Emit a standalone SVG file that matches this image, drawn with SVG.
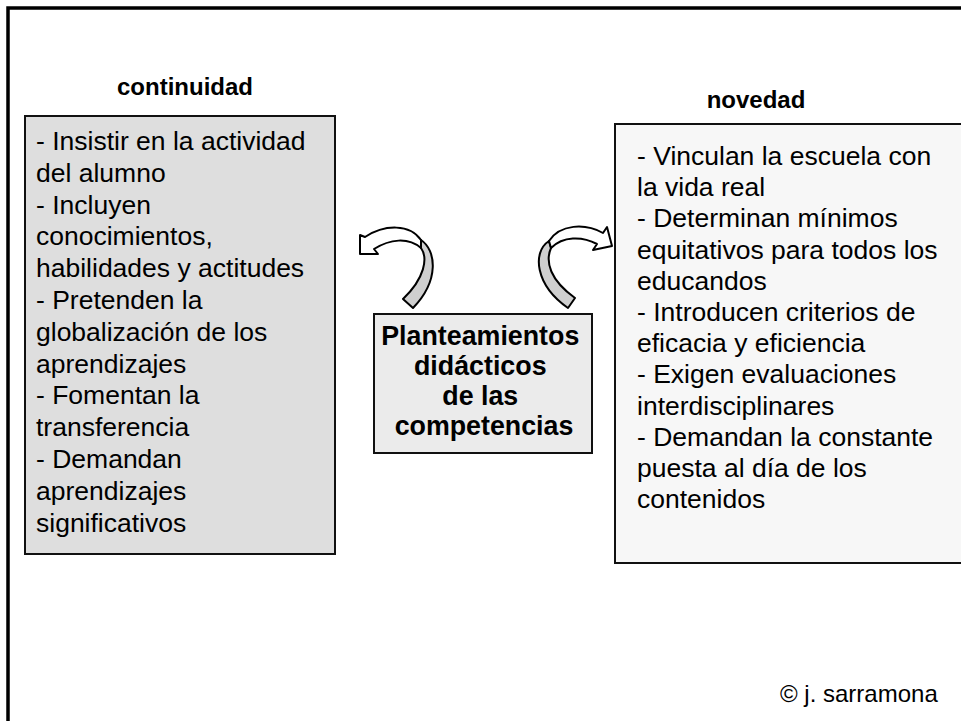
<svg xmlns="http://www.w3.org/2000/svg" width="961" height="721" viewBox="0 0 961 721">
<style>
  text { font-family: "Liberation Sans", Arial, sans-serif; fill: #000; }
  .item { font-size: 26.5px; }
  .head { font-size: 24px; font-weight: bold; text-anchor: middle; }
  .center { font-size: 26.8px; font-weight: bold; text-anchor: middle; }
  .box { stroke: #111; stroke-width: 2; }
  .arr { stroke: #000; stroke-width: 2; stroke-linejoin: round; }
</style>
<rect x="0" y="0" width="961" height="721" fill="#fff"/>
<rect x="8" y="8" width="1000" height="800" fill="none" stroke="#000" stroke-width="3.5"/>

<g id="label-continuidad"><text class="head" x="185" y="95">continuidad</text></g>
<g id="label-novedad"><text class="head" x="756" y="108">novedad</text></g>

<g id="continuidad">
  <rect class="box" x="25" y="116" width="310" height="438" fill="#dedede"/>
  <text class="item" x="36">
    <tspan x="36" y="150">- Insistir en la actividad</tspan>
    <tspan x="36" y="181.8">del alumno</tspan>
    <tspan x="36" y="213.6">- Incluyen</tspan>
    <tspan x="36" y="245.4">conocimientos,</tspan>
    <tspan x="36" y="277.2">habilidades y actitudes</tspan>
    <tspan x="36" y="309">- Pretenden la</tspan>
    <tspan x="36" y="340.8">globalización de los</tspan>
    <tspan x="36" y="372.6">aprendizajes</tspan>
    <tspan x="36" y="404.4">- Fomentan la</tspan>
    <tspan x="36" y="436.2">transferencia</tspan>
    <tspan x="36" y="468">- Demandan</tspan>
    <tspan x="36" y="499.8">aprendizajes</tspan>
    <tspan x="36" y="531.6">significativos</tspan>
  </text>
</g>

<g id="novedad">
  <rect class="box" x="615" y="124" width="400" height="439" fill="#f7f7f7"/>
  <text class="item">
    <tspan x="637" y="165">- Vinculan la escuela con</tspan>
    <tspan x="637" y="196.2">la vida real</tspan>
    <tspan x="637" y="227.4">- Determinan mínimos</tspan>
    <tspan x="637" y="258.6">equitativos para todos los</tspan>
    <tspan x="637" y="289.8">educandos</tspan>
    <tspan x="637" y="321">- Introducen criterios de</tspan>
    <tspan x="637" y="352.2">eficacia y eficiencia</tspan>
    <tspan x="637" y="383.4">- Exigen evaluaciones</tspan>
    <tspan x="637" y="414.6">interdisciplinares</tspan>
    <tspan x="637" y="445.8">- Demandan la constante</tspan>
    <tspan x="637" y="477">puesta al día de los</tspan>
    <tspan x="637" y="508.2">contenidos</tspan>
  </text>
</g>

<g id="planteamientos">
  <rect class="box" x="374" y="314" width="218" height="139" fill="#ebebeb"/>
  <text class="center">
    <tspan x="484" y="345">Planteamientos</tspan>
    <tspan x="484" y="375">didácticos</tspan>
    <tspan x="484" y="405">de las</tspan>
    <tspan x="484" y="435">competencias</tspan>
  </text>
</g>

<g id="connectors">
  <g id="arrow-left">
    <path class="arr" fill="#cfcfcf" d="M 421 240 C 436 250, 440 280, 413 308 L 403 299 C 425 278, 428 258, 421 248 Z"/>
    <path class="arr" fill="#fff" d="M 421 240 C 410 224, 385 224, 365 237 L 360 235 L 360 254 L 378 254 L 374 249 C 390 239, 408 237, 421 248 Z"/>
  </g>
  <g id="arrow-right">
    <path class="arr" fill="#cfcfcf" d="M 549 241 C 532 252, 535 285, 568 308 L 575 298 C 550 280, 545 262, 551 248 Z"/>
    <path class="arr" fill="#fff" d="M 549 241 C 560 224, 585 223, 603 233 L 607 227 L 612 246 L 593 250 L 597 244 C 582 236, 563 236, 551 248 Z"/>
  </g>
</g>

<g id="copyright"><text x="780" y="702" font-size="24">© j. sarramona</text></g>
</svg>
